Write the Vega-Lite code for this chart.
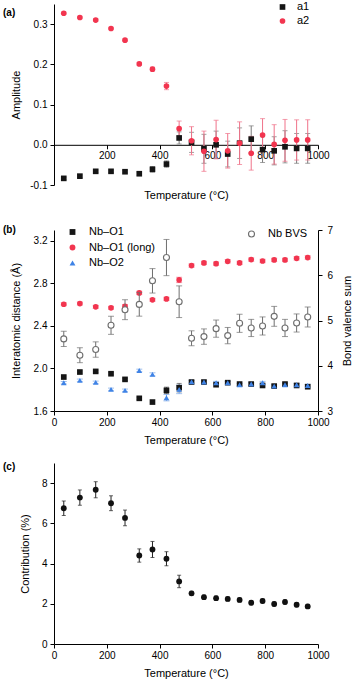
{
  "$schema": "https://vega.github.io/schema/vega-lite/v6.json",
  "autosize": {"type": "pad"},
  "padding": {"left": 3, "top": 1, "right": 0, "bottom": 0},
  "config": {
    "font": "Liberation Sans",
    "view": {"stroke": null},
    "axis": {"grid": false, "domainColor": "#000", "tickColor": "#000", "labelColor": "#000", "titleColor": "#000", "labelFontSize": 10, "titleFontSize": 11, "titleFontWeight": "normal", "labelFont": "Liberation Sans", "titleFont": "Liberation Sans", "domainWidth": 1, "tickWidth": 1, "labelOverlap": false, "labelFlush": false},
    "legend": {"labelFontSize": 11, "labelColor": "#000", "labelFont": "Liberation Sans", "title": null},
    "title": {"font": "Liberation Sans", "fontSize": 10, "fontWeight": "bold", "color": "#000", "anchor": "start", "frame": "group", "baseline": "alphabetic"}
  },
  "datasets": {
    "a": [
      {"T": 37, "series": "a1", "v": -0.0835, "err": 0.003},
      {"T": 98, "series": "a1", "v": -0.078, "err": 0.003},
      {"T": 158, "series": "a1", "v": -0.066, "err": 0.003},
      {"T": 216, "series": "a1", "v": -0.066, "err": 0.003},
      {"T": 269, "series": "a1", "v": -0.067, "err": 0.003},
      {"T": 323, "series": "a1", "v": -0.072, "err": 0.004},
      {"T": 373, "series": "a1", "v": -0.061, "err": 0.007},
      {"T": 426, "series": "a1", "v": -0.048, "err": 0.008},
      {"T": 474, "series": "a1", "v": 0.017, "err": 0.015},
      {"T": 521, "series": "a1", "v": 0.006, "err": 0.025},
      {"T": 568, "series": "a1", "v": -0.010, "err": 0.036},
      {"T": 614, "series": "a1", "v": 0.0, "err": 0.034},
      {"T": 658, "series": "a1", "v": -0.023, "err": 0.032},
      {"T": 703, "series": "a1", "v": 0.004, "err": 0.038},
      {"T": 747, "series": "a1", "v": 0.014, "err": 0.033},
      {"T": 790, "series": "a1", "v": -0.012, "err": 0.032},
      {"T": 834, "series": "a1", "v": -0.015, "err": 0.035},
      {"T": 875, "series": "a1", "v": -0.005, "err": 0.04},
      {"T": 919, "series": "a1", "v": -0.009, "err": 0.037},
      {"T": 961, "series": "a1", "v": -0.009, "err": 0.037},
      {"T": 37, "series": "a2", "v": 0.327, "err": 0.003},
      {"T": 98, "series": "a2", "v": 0.3165, "err": 0.003},
      {"T": 158, "series": "a2", "v": 0.31, "err": 0.003},
      {"T": 216, "series": "a2", "v": 0.289, "err": 0.003},
      {"T": 269, "series": "a2", "v": 0.26, "err": 0.003},
      {"T": 323, "series": "a2", "v": 0.201, "err": 0.004},
      {"T": 373, "series": "a2", "v": 0.188, "err": 0.005},
      {"T": 426, "series": "a2", "v": 0.146, "err": 0.009},
      {"T": 474, "series": "a2", "v": 0.040, "err": 0.019},
      {"T": 521, "series": "a2", "v": 0.010, "err": 0.035},
      {"T": 568, "series": "a2", "v": -0.016, "err": 0.05},
      {"T": 614, "series": "a2", "v": 0.013, "err": 0.048},
      {"T": 658, "series": "a2", "v": -0.015, "err": 0.043},
      {"T": 703, "series": "a2", "v": 0.004, "err": 0.053},
      {"T": 747, "series": "a2", "v": -0.021, "err": 0.042},
      {"T": 790, "series": "a2", "v": 0.024, "err": 0.041},
      {"T": 834, "series": "a2", "v": 0.001, "err": 0.049},
      {"T": 875, "series": "a2", "v": 0.011, "err": 0.052},
      {"T": 919, "series": "a2", "v": 0.012, "err": 0.05},
      {"T": 961, "series": "a2", "v": 0.012, "err": 0.05}
    ],
    "bdist": [
      {"T": 37, "series": "Nb–O1", "v": 1.919, "err": 0.01},
      {"T": 98, "series": "Nb–O1", "v": 1.966, "err": 0.01},
      {"T": 158, "series": "Nb–O1", "v": 1.972, "err": 0.01},
      {"T": 216, "series": "Nb–O1", "v": 1.95, "err": 0.01},
      {"T": 269, "series": "Nb–O1", "v": 1.897, "err": 0.01},
      {"T": 323, "series": "Nb–O1", "v": 1.719, "err": 0.01},
      {"T": 373, "series": "Nb–O1", "v": 1.684, "err": 0.01},
      {"T": 426, "series": "Nb–O1", "v": 1.794, "err": 0.03},
      {"T": 474, "series": "Nb–O1", "v": 1.819, "err": 0.04},
      {"T": 521, "series": "Nb–O1", "v": 1.872, "err": 0.012},
      {"T": 568, "series": "Nb–O1", "v": 1.872, "err": 0.012},
      {"T": 614, "series": "Nb–O1", "v": 1.847, "err": 0.012},
      {"T": 658, "series": "Nb–O1", "v": 1.866, "err": 0.012},
      {"T": 703, "series": "Nb–O1", "v": 1.853, "err": 0.012},
      {"T": 747, "series": "Nb–O1", "v": 1.853, "err": 0.012},
      {"T": 790, "series": "Nb–O1", "v": 1.84, "err": 0.012},
      {"T": 834, "series": "Nb–O1", "v": 1.834, "err": 0.012},
      {"T": 875, "series": "Nb–O1", "v": 1.853, "err": 0.012},
      {"T": 919, "series": "Nb–O1", "v": 1.84, "err": 0.012},
      {"T": 961, "series": "Nb–O1", "v": 1.828, "err": 0.012},
      {"T": 37, "series": "Nb–O1 (long)", "v": 2.603, "err": 0.014},
      {"T": 98, "series": "Nb–O1 (long)", "v": 2.609, "err": 0.014},
      {"T": 158, "series": "Nb–O1 (long)", "v": 2.578, "err": 0.014},
      {"T": 216, "series": "Nb–O1 (long)", "v": 2.569, "err": 0.014},
      {"T": 269, "series": "Nb–O1 (long)", "v": 2.584, "err": 0.016},
      {"T": 323, "series": "Nb–O1 (long)", "v": 2.709, "err": 0.016},
      {"T": 373, "series": "Nb–O1 (long)", "v": 2.644, "err": 0.014},
      {"T": 426, "series": "Nb–O1 (long)", "v": 2.653, "err": 0.016},
      {"T": 474, "series": "Nb–O1 (long)", "v": 2.831, "err": 0.025},
      {"T": 521, "series": "Nb–O1 (long)", "v": 2.966, "err": 0.016},
      {"T": 568, "series": "Nb–O1 (long)", "v": 2.991, "err": 0.016},
      {"T": 614, "series": "Nb–O1 (long)", "v": 2.984, "err": 0.016},
      {"T": 658, "series": "Nb–O1 (long)", "v": 3.006, "err": 0.016},
      {"T": 703, "series": "Nb–O1 (long)", "v": 2.991, "err": 0.016},
      {"T": 747, "series": "Nb–O1 (long)", "v": 3.022, "err": 0.016},
      {"T": 790, "series": "Nb–O1 (long)", "v": 3.009, "err": 0.016},
      {"T": 834, "series": "Nb–O1 (long)", "v": 3.019, "err": 0.016},
      {"T": 875, "series": "Nb–O1 (long)", "v": 3.019, "err": 0.016},
      {"T": 919, "series": "Nb–O1 (long)", "v": 3.034, "err": 0.016},
      {"T": 961, "series": "Nb–O1 (long)", "v": 3.041, "err": 0.016},
      {"T": 37, "series": "Nb–O2", "v": 1.866, "err": 0.012},
      {"T": 98, "series": "Nb–O2", "v": 1.888, "err": 0.012},
      {"T": 158, "series": "Nb–O2", "v": 1.869, "err": 0.012},
      {"T": 216, "series": "Nb–O2", "v": 1.803, "err": 0.012},
      {"T": 269, "series": "Nb–O2", "v": 1.794, "err": 0.012},
      {"T": 323, "series": "Nb–O2", "v": 1.981, "err": 0.012},
      {"T": 373, "series": "Nb–O2", "v": 1.944, "err": 0.015},
      {"T": 426, "series": "Nb–O2", "v": 1.725, "err": 0.03},
      {"T": 474, "series": "Nb–O2", "v": 1.803, "err": 0.04},
      {"T": 521, "series": "Nb–O2", "v": 1.875, "err": 0.012},
      {"T": 568, "series": "Nb–O2", "v": 1.872, "err": 0.012},
      {"T": 614, "series": "Nb–O2", "v": 1.866, "err": 0.012},
      {"T": 658, "series": "Nb–O2", "v": 1.866, "err": 0.012},
      {"T": 703, "series": "Nb–O2", "v": 1.847, "err": 0.012},
      {"T": 747, "series": "Nb–O2", "v": 1.853, "err": 0.012},
      {"T": 790, "series": "Nb–O2", "v": 1.866, "err": 0.012},
      {"T": 834, "series": "Nb–O2", "v": 1.834, "err": 0.012},
      {"T": 875, "series": "Nb–O2", "v": 1.847, "err": 0.012},
      {"T": 919, "series": "Nb–O2", "v": 1.847, "err": 0.012},
      {"T": 961, "series": "Nb–O2", "v": 1.84, "err": 0.012}
    ],
    "bvs": [
      {"T": 37, "series": "Nb BVS", "v": 4.593, "err": 0.17},
      {"T": 98, "series": "Nb BVS", "v": 4.233, "err": 0.165},
      {"T": 158, "series": "Nb BVS", "v": 4.358, "err": 0.17},
      {"T": 216, "series": "Nb BVS", "v": 4.894, "err": 0.2},
      {"T": 269, "series": "Nb BVS", "v": 5.239, "err": 0.22},
      {"T": 323, "series": "Nb BVS", "v": 5.356, "err": 0.26},
      {"T": 373, "series": "Nb BVS", "v": 5.877, "err": 0.27},
      {"T": 426, "series": "Nb BVS", "v": 6.391, "err": 0.4},
      {"T": 474, "series": "Nb BVS", "v": 5.415, "err": 0.35},
      {"T": 521, "series": "Nb BVS", "v": 4.607, "err": 0.165},
      {"T": 568, "series": "Nb BVS", "v": 4.644, "err": 0.17},
      {"T": 614, "series": "Nb BVS", "v": 4.82, "err": 0.19},
      {"T": 658, "series": "Nb BVS", "v": 4.666, "err": 0.18},
      {"T": 703, "series": "Nb BVS", "v": 4.938, "err": 0.2},
      {"T": 747, "series": "Nb BVS", "v": 4.835, "err": 0.19},
      {"T": 790, "series": "Nb BVS", "v": 4.879, "err": 0.2},
      {"T": 834, "series": "Nb BVS", "v": 5.092, "err": 0.22},
      {"T": 875, "series": "Nb BVS", "v": 4.835, "err": 0.19},
      {"T": 919, "series": "Nb BVS", "v": 4.945, "err": 0.2},
      {"T": 961, "series": "Nb BVS", "v": 5.077, "err": 0.22}
    ],
    "c": [
      {"T": 37, "v": 6.75, "err": 0.36},
      {"T": 98, "v": 7.28, "err": 0.38},
      {"T": 158, "v": 7.67, "err": 0.4},
      {"T": 216, "v": 7.0, "err": 0.37},
      {"T": 269, "v": 6.27, "err": 0.39},
      {"T": 323, "v": 4.40, "err": 0.33},
      {"T": 373, "v": 4.70, "err": 0.4},
      {"T": 426, "v": 4.24, "err": 0.35},
      {"T": 474, "v": 3.11, "err": 0.31},
      {"T": 521, "v": 2.52, "err": 0.1},
      {"T": 568, "v": 2.33, "err": 0.1},
      {"T": 614, "v": 2.28, "err": 0.1},
      {"T": 658, "v": 2.24, "err": 0.1},
      {"T": 703, "v": 2.19, "err": 0.1},
      {"T": 747, "v": 2.05, "err": 0.1},
      {"T": 790, "v": 2.14, "err": 0.1},
      {"T": 834, "v": 1.99, "err": 0.1},
      {"T": 875, "v": 2.09, "err": 0.1},
      {"T": 919, "v": 1.95, "err": 0.1},
      {"T": 961, "v": 1.87, "err": 0.1}
    ]
  },
  "bounds": "flush",
  "spacing": 45,
  "vconcat": [
    {
      "width": 264,
      "height": 181,
      "title": {"text": "(a)", "orient": "top", "offset": -14, "dx": -51},
      "data": {"name": "a"},
      "layer": [
        {
          "transform": [{"filter": "datum.series === 'a1'"}],
          "mark": {"type": "errorbar", "ticks": {"size": 5}, "color": "#7a7a7a", "thickness": 1},
          "encoding": {
            "x": {"field": "T", "type": "quantitative", "title": "Temperature (°C)", "scale": {"domain": [0, 1000], "nice": false}},
            "y": {"field": "v", "type": "quantitative", "title": "Amplitude", "scale": {"domain": [-0.1, 0.35], "nice": false, "zero": false}},
            "yError": {"field": "err"}
          }
        },
        {
          "transform": [{"filter": "datum.series === 'a2'"}],
          "mark": {"type": "errorbar", "ticks": {"size": 5}, "color": "#f0738a", "thickness": 1},
          "encoding": {
            "x": {"field": "T", "type": "quantitative", "title": "Temperature (°C)"},
            "y": {"field": "v", "type": "quantitative", "title": "Amplitude"},
            "yError": {"field": "err"}
          }
        },
        {
          "mark": {"type": "point", "filled": true, "opacity": 1, "size": 32},
          "encoding": {
            "x": {"field": "T", "type": "quantitative", "title": "Temperature (°C)",
              "axis": {"offset": -40.2, "values": [0, 100, 200, 300, 400, 500, 600, 700, 800, 900, 1000],
                "labelOverlap": false,
                "labelExpr": "datum.value > 0 && datum.value % 200 === 0 ? format(datum.value, 'd') : ''",
                "tickSize": {"condition": {"test": "datum.value > 0 && datum.value % 200 === 0", "value": 4}, "value": 2},
                "labelPadding": 2, "titleY": 44.5, "titleBaseline": "top"}},
            "y": {"field": "v", "type": "quantitative", "title": "Amplitude",
              "axis": {"values": [-0.1, -0.05, 0, 0.05, 0.1, 0.15, 0.2, 0.25, 0.3, 0.35],
                "labelOverlap": false,
                "labelExpr": "abs(round(datum.value*100)) % 10 === 0 ? replace(format(datum.value, '.1f'), '\u2212', '-') : ''",
                "tickSize": {"condition": {"test": "abs(round(datum.value*100)) % 10 === 0", "value": 4}, "value": 2},
                "labelPadding": 3, "titleX": -38, "titleBaseline": "middle"}},
            "color": {"field": "series", "type": "nominal", "scale": {"domain": ["a1", "a2"], "range": ["#151515", "#f2354f"]},
              "legend": {"orient": "none", "legendX": 223, "legendY": -2.5, "symbolSize": 32, "labelOffset": 9, "rowPadding": 2}},
            "shape": {"field": "series", "type": "nominal", "scale": {"domain": ["a1", "a2"], "range": ["square", "circle"]}}
          }
        }
      ]
    },
    {
      "width": 264,
      "height": 181,
      "title": {"text": "(b)", "orient": "top", "offset": -9.5, "dx": -51},
      "resolve": {"scale": {"y": "independent", "color": "independent", "shape": "independent"}},
      "layer": [
        {
          "data": {"name": "bdist"},
          "layer": [
            {
              "transform": [{"filter": "datum.series === 'Nb–O1'"}],
              "mark": {"type": "errorbar", "ticks": {"size": 5}, "color": "#555555", "thickness": 1},
              "encoding": {
                "x": {"field": "T", "type": "quantitative", "title": "Temperature (°C)", "scale": {"domain": [0, 1000], "nice": false}},
                "y": {"field": "v", "type": "quantitative", "title": "Interatomic distance (Å)", "scale": {"domain": [1.6, 3.3], "nice": false, "zero": false}},
                "yError": {"field": "err"}
              }
            },
            {
              "transform": [{"filter": "datum.series === 'Nb–O1 (long)'"}],
              "mark": {"type": "errorbar", "ticks": {"size": 6}, "color": "#f0738a", "thickness": 1},
              "encoding": {
                "x": {"field": "T", "type": "quantitative", "title": "Temperature (°C)"},
                "y": {"field": "v", "type": "quantitative", "title": "Interatomic distance (Å)"},
                "yError": {"field": "err"}
              }
            },
            {
              "transform": [{"filter": "datum.series === 'Nb–O2'"}],
              "mark": {"type": "errorbar", "ticks": {"size": 6}, "color": "#7aa6e6", "thickness": 1},
              "encoding": {
                "x": {"field": "T", "type": "quantitative", "title": "Temperature (°C)"},
                "y": {"field": "v", "type": "quantitative", "title": "Interatomic distance (Å)"},
                "yError": {"field": "err"}
              }
            },
            {
              "mark": {"type": "point", "filled": true, "opacity": 1, "size": 32},
              "encoding": {
                "x": {"field": "T", "type": "quantitative", "title": "Temperature (°C)",
                  "axis": {"values": [0, 100, 200, 300, 400, 500, 600, 700, 800, 900, 1000],
                    "labelOverlap": false,
                    "labelExpr": "datum.value % 200 === 0 ? format(datum.value, 'd') : ''",
                    "tickSize": {"condition": {"test": "datum.value % 200 === 0", "value": 4}, "value": 2},
                    "labelPadding": 2, "titleY": 23.5, "titleBaseline": "top"}},
                "y": {"field": "v", "type": "quantitative", "title": "Interatomic distance (Å)",
                  "axis": {"orient": "left", "values": [1.6, 1.7, 1.8, 1.9, 2.0, 2.1, 2.2, 2.3, 2.4, 2.5, 2.6, 2.7, 2.8, 2.9, 3.0, 3.1, 3.2, 3.3],
                    "labelOverlap": false,
                    "labelExpr": "round(datum.value*10) % 2 === 0 ? format(datum.value, '.1f') : ''",
                    "tickSize": {"condition": {"test": "round(datum.value*10) % 2 === 0", "value": 4}, "value": 2},
                    "labelPadding": 3, "titleX": -37.5, "titleBaseline": "middle"}},
                "color": {"field": "series", "type": "nominal", "scale": {"domain": ["Nb–O1", "Nb–O1 (long)", "Nb–O2"], "range": ["#151515", "#f2354f", "#3f83e6"]},
                  "legend": {"orient": "none", "legendX": 13, "legendY": -3.5, "symbolSize": 34, "labelOffset": 11, "rowPadding": 3.5}},
                "shape": {"field": "series", "type": "nominal", "scale": {"domain": ["Nb–O1", "Nb–O1 (long)", "Nb–O2"], "range": ["square", "circle", "triangle-up"]}}
              }
            }
          ]
        },
        {
          "data": {"name": "bvs"},
          "layer": [
            {
              "mark": {"type": "errorbar", "ticks": {"size": 6}, "color": "#6e6e6e", "thickness": 1},
              "encoding": {
                "x": {"field": "T", "type": "quantitative", "title": "Temperature (°C)"},
                "y": {"field": "v", "type": "quantitative", "title": "Bond valence sum", "scale": {"domain": [3, 7], "nice": false, "zero": false}},
                "yError": {"field": "err"}
              }
            },
            {
              "mark": {"type": "point", "filled": false, "opacity": 1, "size": 36, "strokeWidth": 1.1, "fill": "#ffffff", "fillOpacity": 1},
              "encoding": {
                "x": {"field": "T", "type": "quantitative", "title": "Temperature (°C)"},
                "y": {"field": "v", "type": "quantitative", "title": "Bond valence sum",
                  "axis": {"orient": "right", "values": [3, 3.5, 4, 4.5, 5, 5.5, 6, 6.5, 7],
                    "labelOverlap": false,
                    "labelExpr": "datum.value % 1 === 0 ? datum.label : ''",
                    "tickSize": {"condition": {"test": "datum.value % 1 === 0", "value": 4}, "value": 2},
                    "labelPadding": 5, "titleX": 29, "titleAngle": 270, "titleBaseline": "middle"}},
                "color": {"field": "series", "type": "nominal", "scale": {"domain": ["Nb BVS"], "range": ["#6e6e6e"]},
                  "legend": {"orient": "none", "legendX": 192, "legendY": -1.5, "symbolSize": 36, "labelOffset": 11, "symbolStrokeWidth": 1.1}}
              }
            }
          ]
        }
      ]
    },
    {
      "width": 264,
      "height": 188,
      "title": {"text": "(c)", "orient": "top", "offset": -16, "dx": -51},
      "data": {"name": "c"},
      "layer": [
        {
          "mark": {"type": "errorbar", "ticks": {"size": 4}, "color": "#222222", "thickness": 1},
          "encoding": {
            "x": {"field": "T", "type": "quantitative", "title": "Temperature (°C)", "scale": {"domain": [0, 1000], "nice": false}},
            "y": {"field": "v", "type": "quantitative", "title": "Contribution (%)", "scale": {"domain": [0, 9], "nice": false, "range": [188, 7]}},
            "yError": {"field": "err"}
          }
        },
        {
          "mark": {"type": "point", "filled": true, "opacity": 1, "size": 34, "shape": "circle", "color": "#111111"},
          "encoding": {
            "x": {"field": "T", "type": "quantitative", "title": "Temperature (°C)",
              "axis": {"values": [0, 100, 200, 300, 400, 500, 600, 700, 800, 900, 1000],
                "labelOverlap": false,
                "labelExpr": "datum.value % 200 === 0 ? format(datum.value, 'd') : ''",
                "tickSize": {"condition": {"test": "datum.value % 200 === 0", "value": 4}, "value": 2},
                "labelPadding": 2, "titleY": 23.5, "titleBaseline": "top"}},
            "y": {"field": "v", "type": "quantitative", "title": "Contribution (%)",
              "axis": {"values": [0, 1, 2, 3, 4, 5, 6, 7, 8, 9],
                "labelOverlap": false,
                "labelExpr": "datum.value % 2 === 0 ? datum.label : ''",
                "tickSize": {"condition": {"test": "datum.value % 2 === 0", "value": 4}, "value": 2},
                "labelPadding": 3, "titleX": -29, "titleBaseline": "middle"}}
          }
        }
      ]
    }
  ]
}
